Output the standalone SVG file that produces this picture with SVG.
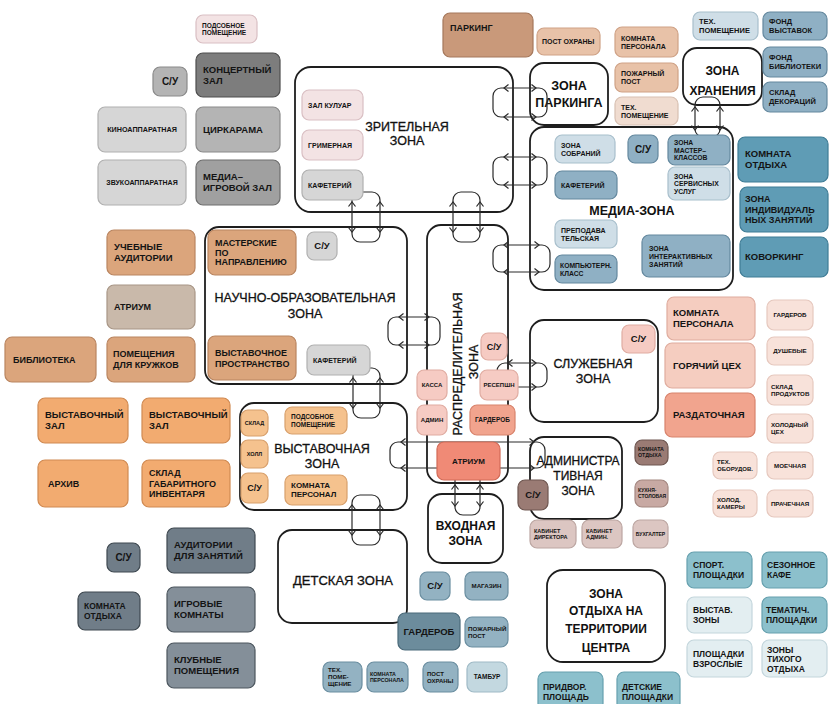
<svg xmlns="http://www.w3.org/2000/svg" width="829" height="704" viewBox="0 0 829 704">
<style>
rect{stroke-width:1.2}
.z{fill:#fff;stroke:#1e1e1e;stroke-width:1.8}
.t{font-family:"Liberation Sans",Arial,sans-serif;font-weight:bold;fill:#141414}
.m{text-anchor:middle}
.zr{font-family:"Liberation Sans",Arial,sans-serif;font-weight:normal;fill:#111;text-anchor:middle;stroke:#111;stroke-width:0.3}
.zb{font-family:"Liberation Sans",Arial,sans-serif;font-weight:bold;fill:#111;text-anchor:middle}
.cn rect,.cn path{fill:none;stroke:#2a2a2a;stroke-width:1.2}
.pinkL{fill:#f3e3e4;stroke:#d9bfc3}
.grayD{fill:#7d7d7d;stroke:#4e4e4e}
.grayM{fill:#b4b4b4;stroke:#8a8a8a}
.grayL{fill:#d6d6d6;stroke:#b0b0b0}
.grayM2{fill:#a0a0a0;stroke:#6e6e6e}
.tan{fill:#dba57c;stroke:#b98560}
.grayTan{fill:#c9b9aa;stroke:#a89686}
.orange{fill:#f2ab70;stroke:#d08a52}
.lor{fill:#f5c28e;stroke:#d8a06c}
.slateD{fill:#707d88;stroke:#3e4850}
.slateM{fill:#848f99;stroke:#4c565e}
.brownP{fill:#c9997a;stroke:#a5785c}
.peach{fill:#e8c2a8;stroke:#cfa286}
.peachL{fill:#f0dcd0;stroke:#d8c0b2}
.blueL{fill:#cfdee7;stroke:#a8bfcc}
.blueM{fill:#8fb0c4;stroke:#64889e}
.teal{fill:#5f9cb5;stroke:#3f7c95}
.pink{fill:#f5cdc0;stroke:#dfac9e}
.pinkL2{fill:#f8e2da;stroke:#e6c8be}
.salmon{fill:#f1a48e;stroke:#d8836c}
.atr{fill:#f08a76;stroke:#d26a56}
.pinkD{fill:#f6cbc3;stroke:#e0aca2}
.brownD{fill:#9a7b74;stroke:#6e5650}
.brownL{fill:#c8a9a3;stroke:#a48780}
.brownLL{fill:#dcc6c2;stroke:#bca6a2}
.blueB{fill:#93b2c2;stroke:#6a8ea0}
.blueDk{fill:#6c8c9c;stroke:#4a6a7a}
.blueLt{fill:#c3d8e0;stroke:#9fbac6}
.tealL{fill:#8cc0cc;stroke:#66a0ae}
.vLight{fill:#e3eef1;stroke:#c4d6dc}
</style>
<rect width="829" height="704" fill="#fff" stroke="none"/>

<!-- zones -->
<g id="zone-zritel"><rect class="z" x="295" y="67" width="218" height="145" rx="16"/><text class="zr" font-size="12.5"><tspan x="407" y="131">ЗРИТЕЛЬНАЯ</tspan><tspan x="407" y="145">ЗОНА</tspan></text></g>
<g id="zone-parking"><rect class="z" x="530" y="63" width="78" height="62" rx="14"/><text class="zb" font-size="12.5"><tspan x="569" y="90">ЗОНА</tspan><tspan x="569" y="107">ПАРКИНГА</tspan></text></g>
<g id="zone-hran"><rect class="z" x="683" y="48" width="79" height="57" rx="14"/><text class="zb" font-size="12"><tspan x="722.5" y="75">ЗОНА</tspan><tspan x="722.5" y="95">ХРАНЕНИЯ</tspan></text></g>
<g id="zone-media"><rect class="z" x="530" y="127" width="203" height="163" rx="14"/><text class="zb" font-size="12.5" x="632" y="215">МЕДИА-ЗОНА</text></g>
<g id="zone-nauch"><rect class="z" x="205" y="227" width="202" height="157" rx="14"/><text class="zr" font-size="12.5"><tspan x="305" y="302">НАУЧНО-ОБРАЗОВАТЕЛЬНАЯ</tspan><tspan x="305" y="318">ЗОНА</tspan></text></g>
<g id="zone-raspr"><rect class="z" x="427" y="225" width="81" height="258" rx="14"/><text class="zr" font-size="12.5" transform="translate(462,364) rotate(-90)">РАСПРЕДЕЛИТЕЛЬНАЯ</text><text class="zr" font-size="12.5" transform="translate(478,362) rotate(-90)">ЗОНА</text></g>
<g id="zone-vyst"><rect class="z" x="240" y="403" width="167" height="107" rx="14"/><text class="zr" font-size="12.5"><tspan x="322" y="453">ВЫСТАВОЧНАЯ</tspan><tspan x="322" y="468">ЗОНА</tspan></text></g>
<g id="zone-sluzh"><rect class="z" x="530" y="320" width="128" height="102" rx="14"/><text class="zr" font-size="12.5"><tspan x="593" y="368">СЛУЖЕБНАЯ</tspan><tspan x="593" y="383">ЗОНА</tspan></text></g>
<g id="zone-admin"><rect class="z" x="530" y="437" width="92" height="82" rx="14"/><text class="zr" font-size="12"><tspan x="578" y="465">АДМИНИСТРА</tspan><tspan x="578" y="480">ТИВНАЯ</tspan><tspan x="578" y="495">ЗОНА</tspan></text></g>
<g id="zone-vhod"><rect class="z" x="428" y="494" width="75" height="69" rx="14"/><text class="zb" font-size="12"><tspan x="465.5" y="530">ВХОДНАЯ</tspan><tspan x="465.5" y="545">ЗОНА</tspan></text></g>
<g id="zone-det"><rect class="z" x="278" y="530" width="129" height="93" rx="14"/><text class="zr" font-size="13" x="343" y="585">ДЕТСКАЯ ЗОНА</text></g>
<g id="zone-otdyh"><rect class="z" x="547" y="570" width="118" height="92" rx="16"/><text class="zb" font-size="12"><tspan x="606" y="598">ЗОНА</tspan><tspan x="606" y="615">ОТДЫХА НА</tspan><tspan x="606" y="633">ТЕРРИТОРИИ</tspan><tspan x="606" y="652">ЦЕНТРА</tspan></text></g>

<!-- connectors -->
<g id="connectors" class="cn">
<rect x="493" y="88" width="54" height="29" rx="8"/>
<path d="M508.5 84.5L504 88L508.5 91.5M508.5 113.5L504 117L508.5 120.5M531.5 84.5L536 88L531.5 91.5M531.5 113.5L536 117L531.5 120.5"/>
<rect x="493" y="157" width="54" height="28" rx="8"/>
<path d="M508.5 153.5L504 157L508.5 160.5M508.5 181.5L504 185L508.5 188.5M531.5 153.5L536 157L531.5 160.5M531.5 181.5L536 185L531.5 188.5"/>
<rect x="493" y="245" width="57" height="27" rx="8"/>
<path d="M508.5 241.5L504 245L508.5 248.5M508.5 268.5L504 272L508.5 275.5M534.5 241.5L539 245L534.5 248.5M534.5 268.5L539 272L534.5 275.5"/>
<rect x="388" y="317" width="52" height="28" rx="8"/>
<path d="M403.5 313.5L399 317L403.5 320.5M403.5 341.5L399 345L403.5 348.5M424.5 313.5L429 317L424.5 320.5M424.5 341.5L429 345L424.5 348.5"/>
<rect x="497" y="363" width="50" height="24" rx="8"/>
<path d="M512.5 359.5L508 363L512.5 366.5M512.5 383.5L508 387L512.5 390.5M531.5 359.5L536 363L531.5 366.5M531.5 383.5L536 387L531.5 390.5"/>
<rect x="390" y="442" width="155" height="26" rx="8"/>
<path d="M405.5 438.5L401 442L405.5 445.5M405.5 464.5L401 468L405.5 471.5M529.5 438.5L534 442L529.5 445.5M529.5 464.5L534 468L529.5 471.5"/>
<rect x="352" y="192" width="28" height="50" rx="8"/>
<path d="M348.5 206.5L352 202L355.5 206.5M376.5 206.5L380 202L383.5 206.5M348.5 227.5L352 232L355.5 227.5M376.5 227.5L380 232L383.5 227.5"/>
<rect x="453" y="192" width="27" height="50" rx="8"/>
<path d="M449.5 206.5L453 202L456.5 206.5M476.5 206.5L480 202L483.5 206.5M449.5 227.5L453 232L456.5 227.5M476.5 227.5L480 232L483.5 227.5"/>
<rect x="695" y="97" width="25" height="40" rx="8"/>
<path d="M691.5 111.5L695 107L698.5 111.5M716.5 111.5L720 107L723.5 111.5M691.5 125.5L695 130L698.5 125.5M716.5 125.5L720 130L723.5 125.5"/>
<rect x="353" y="368" width="27" height="50" rx="8"/>
<path d="M349.5 382.5L353 378L356.5 382.5M376.5 382.5L380 378L383.5 382.5M349.5 403.5L353 408L356.5 403.5M376.5 403.5L380 408L383.5 403.5"/>
<rect x="455" y="470" width="25" height="45" rx="8"/>
<path d="M451.5 489.5L455 485L458.5 489.5M476.5 489.5L480 485L483.5 489.5M451.5 501.5L455 506L458.5 501.5M476.5 501.5L480 506L483.5 501.5"/>
<rect x="352" y="495" width="28" height="50" rx="8"/>
<path d="M348.5 509.5L352 505L355.5 509.5M376.5 509.5L380 505L383.5 509.5M348.5 530.5L352 535L355.5 530.5M376.5 530.5L380 535L383.5 530.5"/>
</g>

<!-- top-left cluster -->
<g id="podsob1"><rect class="pinkL" x="196" y="15" width="61" height="28" rx="7"/><text class="t" font-size="6.5"><tspan x="202" y="27.6">ПОДСОБНОЕ</tspan><tspan x="202" y="35.1">ПОМЕЩЕНИЕ</tspan></text></g>
<g id="koncert"><rect class="grayD" x="196" y="53" width="84" height="44" rx="7"/><text class="t" font-size="9.5"><tspan x="203" y="72.9">КОНЦЕРТНЫЙ</tspan><tspan x="203" y="83.9">ЗАЛ</tspan></text></g>
<g id="su1"><rect class="grayM" x="153" y="67" width="34" height="29" rx="7"/><text class="t m" font-size="10" x="170" y="85.1">С/У</text></g>
<g id="kino"><rect class="grayL" x="98" y="107" width="88" height="45" rx="7"/><text class="t m" font-size="7.2" x="142" y="132.1">КИНОАППАРАТНАЯ</text></g>
<g id="cirk"><rect class="grayM" x="196" y="107" width="84" height="45" rx="7"/><text class="t" font-size="9.5" x="203" y="132.9">ЦИРКАРАМА</text></g>
<g id="zvuk"><rect class="grayL" x="98" y="160" width="88" height="45" rx="7"/><text class="t m" font-size="7" x="142" y="185">ЗВУКОАППАРАТНАЯ</text></g>
<g id="mediaigr"><rect class="grayM2" x="196" y="160" width="84" height="45" rx="7"/><text class="t" font-size="9.5"><tspan x="203" y="180.4">МЕДИА–</tspan><tspan x="203" y="191.4">ИГРОВОЙ ЗАЛ</tspan></text></g>

<!-- left middle -->
<g id="ucheb"><rect class="tan" x="107" y="230" width="88" height="45" rx="7"/><text class="t" font-size="9.5"><tspan x="114" y="250.4">УЧЕБНЫЕ</tspan><tspan x="114" y="261.4">АУДИТОРИИ</tspan></text></g>
<g id="atrium1"><rect class="grayTan" x="107" y="285" width="88" height="44" rx="7"/><text class="t" font-size="9" x="114" y="310.2">АТРИУМ</text></g>
<g id="bibl"><rect class="tan" x="5" y="337" width="91" height="45" rx="7"/><text class="t" font-size="9" x="13" y="362.7">БИБЛИОТЕКА</text></g>
<g id="pomkr"><rect class="tan" x="107" y="337" width="88" height="45" rx="7"/><text class="t" font-size="9"><tspan x="113" y="357.2">ПОМЕЩЕНИЯ</tspan><tspan x="113" y="368.2">ДЛЯ КРУЖКОВ</tspan></text></g>
<g id="vz1"><rect class="orange" x="38" y="398" width="90" height="45" rx="7"/><text class="t" font-size="9.5"><tspan x="45" y="418.4">ВЫСТАВОЧНЫЙ</tspan><tspan x="45" y="429.4">ЗАЛ</tspan></text></g>
<g id="vz2"><rect class="orange" x="142" y="398" width="88" height="45" rx="7"/><text class="t" font-size="9.5"><tspan x="149" y="418.4">ВЫСТАВОЧНЫЙ</tspan><tspan x="149" y="429.4">ЗАЛ</tspan></text></g>
<g id="arhiv"><rect class="orange" x="38" y="460" width="90" height="47" rx="7"/><text class="t" font-size="9" x="48" y="486.7">АРХИВ</text></g>
<g id="sklgab"><rect class="orange" x="142" y="460" width="88" height="47" rx="7"/><text class="t" font-size="9"><tspan x="149" y="476.2">СКЛАД</tspan><tspan x="149" y="486.7">ГАБАРИТНОГО</tspan><tspan x="149" y="497.2">ИНВЕНТАРЯ</tspan></text></g>

<!-- bottom-left -->
<g id="su-bl"><rect class="slateD" x="107" y="543" width="33" height="29" rx="7"/><text class="t m" font-size="10" x="123.5" y="561.1">С/У</text></g>
<g id="audit"><rect class="slateD" x="167" y="528" width="88" height="45" rx="7"/><text class="t" font-size="9.5"><tspan x="174" y="548.4">АУДИТОРИИ</tspan><tspan x="174" y="559.4">ДЛЯ ЗАНЯТИЙ</tspan></text></g>
<g id="komotd-bl"><rect class="slateD" x="78" y="592" width="62" height="38" rx="7"/><text class="t" font-size="8.5"><tspan x="84" y="609.1">КОМНАТА</tspan><tspan x="84" y="619.1">ОТДЫХА</tspan></text></g>
<g id="igr"><rect class="slateM" x="167" y="587" width="88" height="45" rx="7"/><text class="t" font-size="9.5"><tspan x="174" y="607.4">ИГРОВЫЕ</tspan><tspan x="174" y="618.4">КОМНАТЫ</tspan></text></g>
<g id="klub"><rect class="slateM" x="167" y="643" width="88" height="45" rx="7"/><text class="t" font-size="9.5"><tspan x="174" y="663.4">КЛУБНЫЕ</tspan><tspan x="174" y="674.4">ПОМЕЩЕНИЯ</tspan></text></g>

<!-- inside зрительная -->
<g id="zalkul"><rect class="pinkL" x="302" y="90" width="61" height="30" rx="7"/><text class="t" font-size="7" x="308" y="107.5">ЗАЛ КУЛУАР</text></g>
<g id="grim"><rect class="pinkL" x="302" y="130" width="61" height="30" rx="7"/><text class="t" font-size="7" x="308" y="147.5">ГРИМЕРНАЯ</text></g>
<g id="kaf1"><rect class="grayL" x="302" y="170" width="61" height="30" rx="7"/><text class="t" font-size="7" x="308" y="187.5">КАФЕТЕРИЙ</text></g>

<!-- top middle -->
<g id="parking"><rect class="brownP" x="443" y="13" width="90" height="44" rx="7"/><text class="t" font-size="9" x="450" y="31">ПАРКИНГ</text></g>
<g id="postoh-t"><rect class="peach" x="537" y="28" width="63" height="27" rx="7"/><text class="t" font-size="7" x="542" y="44">ПОСТ ОХРАНЫ</text></g>
<g id="kompers-t"><rect class="peach" x="615" y="27" width="63" height="30" rx="7"/><text class="t" font-size="7"><tspan x="621" y="40.5">КОМНАТА</tspan><tspan x="621" y="48.5">ПЕРСОНАЛА</tspan></text></g>
<g id="pozh-t"><rect class="peach" x="615" y="63" width="63" height="29" rx="7"/><text class="t" font-size="7"><tspan x="621" y="76">ПОЖАРНЫЙ</tspan><tspan x="621" y="84">ПОСТ</tspan></text></g>
<g id="teh-t"><rect class="peachL" x="615" y="97" width="63" height="28" rx="7"/><text class="t" font-size="7"><tspan x="621" y="109.5">ТЕХ.</tspan><tspan x="621" y="117.5">ПОМЕЩЕНИЕ</tspan></text></g>

<!-- storage right -->
<g id="teh-r"><rect class="blueL" x="693" y="12" width="65" height="28" rx="7"/><text class="t" font-size="7.5"><tspan x="699" y="24.4">ТЕХ.</tspan><tspan x="699" y="32.9">ПОМЕЩЕНИЕ</tspan></text></g>
<g id="fondv"><rect class="blueM" x="763" y="12" width="64" height="28" rx="7"/><text class="t" font-size="7.5"><tspan x="769" y="24.4">ФОНД</tspan><tspan x="769" y="32.9">ВЫСТАВОК</tspan></text></g>
<g id="fondb"><rect class="blueM" x="763" y="47" width="64" height="30" rx="7"/><text class="t" font-size="7.5"><tspan x="769" y="60.4">ФОНД</tspan><tspan x="769" y="68.9">БИБЛИОТЕКИ</tspan></text></g>
<g id="skldek"><rect class="blueM" x="763" y="82" width="64" height="30" rx="7"/><text class="t" font-size="7.5"><tspan x="769" y="95.4">СКЛАД</tspan><tspan x="769" y="103.9">ДЕКОРАЦИЙ</tspan></text></g>
<g id="komotd-r"><rect class="teal" x="738" y="137" width="90" height="45" rx="7"/><text class="t" font-size="9.5"><tspan x="745" y="157.4">КОМНАТА</tspan><tspan x="745" y="168.4">ОТДЫХА</tspan></text></g>
<g id="individ"><rect class="teal" x="740" y="187" width="88" height="45" rx="7"/><text class="t" font-size="9"><tspan x="745" y="202.2">ЗОНА</tspan><tspan x="745" y="212.7">ИНДИВИДУАЛЬ</tspan><tspan x="745" y="223.2">НЫХ ЗАНЯТИЙ</tspan></text></g>
<g id="cowork"><rect class="teal" x="740" y="237" width="88" height="40" rx="7"/><text class="t" font-size="9.5" x="745" y="260.4">КОВОРКИНГ</text></g>

<!-- inside media -->
<g id="sobr"><rect class="blueL" x="555" y="135" width="60" height="28" rx="7"/><text class="t" font-size="7"><tspan x="561" y="147.5">ЗОНА</tspan><tspan x="561" y="155.5">СОБРАНИЙ</tspan></text></g>
<g id="su-m"><rect class="blueM" x="628" y="135" width="30" height="28" rx="7"/><text class="t m" font-size="10" x="643" y="152.6">С/У</text></g>
<g id="master"><rect class="blueM" x="668" y="135" width="62" height="30" rx="7"/><text class="t" font-size="6.8"><tspan x="674" y="145">ЗОНА</tspan><tspan x="674" y="152.5">МАСТЕР–</tspan><tspan x="674" y="160">КЛАССОВ</tspan></text></g>
<g id="kaf-m"><rect class="blueM" x="555" y="171" width="62" height="28" rx="7"/><text class="t" font-size="7" x="561" y="187.5">КАФЕТЕРИЙ</text></g>
<g id="serv"><rect class="blueL" x="668" y="167" width="62" height="33" rx="7"/><text class="t" font-size="6.8"><tspan x="674" y="178.5">ЗОНА</tspan><tspan x="674" y="186">СЕРВИСНЫХ</tspan><tspan x="674" y="193.5">УСЛУГ</tspan></text></g>
<g id="prep"><rect class="blueL" x="555" y="220" width="62" height="28" rx="7"/><text class="t" font-size="7"><tspan x="561" y="232.5">ПРЕПОДАВА</tspan><tspan x="561" y="240.5">ТЕЛЬСКАЯ</tspan></text></g>
<g id="comp"><rect class="blueM" x="555" y="255" width="62" height="28" rx="7"/><text class="t" font-size="6.8"><tspan x="560" y="267.5">КОМПЬЮТЕРН.</tspan><tspan x="560" y="275.5">КЛАСС</tspan></text></g>
<g id="inter"><rect class="blueM" x="642" y="235" width="88" height="42" rx="7"/><text class="t" font-size="7"><tspan x="649" y="250.5">ЗОНА</tspan><tspan x="649" y="258.5">ИНТЕРАКТИВНЫХ</tspan><tspan x="649" y="266.5">ЗАНЯТИЙ</tspan></text></g>

<!-- kitchen -->
<g id="kompers-k"><rect class="pink" x="667" y="297" width="88" height="43" rx="7"/><text class="t" font-size="9.5"><tspan x="673" y="316.4">КОМНАТА</tspan><tspan x="673" y="327.4">ПЕРСОНАЛА</tspan></text></g>
<g id="gor"><rect class="pink" x="665" y="343" width="90" height="45" rx="7"/><text class="t" font-size="9.5" x="673" y="368.9">ГОРЯЧИЙ ЦЕХ</text></g>
<g id="razd"><rect class="salmon" x="665" y="393" width="90" height="44" rx="7"/><text class="t" font-size="9.5" x="673" y="418.4">РАЗДАТОЧНАЯ</text></g>
<g id="gard-k"><rect class="pinkL2" x="767" y="300" width="46" height="30" rx="7"/><text class="t m" font-size="6.2" x="790" y="317.2">ГАРДЕРОБ</text></g>
<g id="dush"><rect class="pinkL2" x="767" y="337" width="46" height="28" rx="7"/><text class="t m" font-size="6.2" x="790" y="353.2">ДУШЕВЫЕ</text></g>
<g id="sklprod"><rect class="pinkL2" x="767" y="375" width="46" height="30" rx="7"/><text class="t" font-size="6.2"><tspan x="771" y="388.7">СКЛАД</tspan><tspan x="771" y="395.7">ПРОДУКТОВ</tspan></text></g>
<g id="holc"><rect class="pinkL2" x="767" y="414" width="46" height="29" rx="7"/><text class="t" font-size="6.2"><tspan x="771" y="427.2">ХОЛОДНЫЙ</tspan><tspan x="771" y="434.2">ЦЕХ</tspan></text></g>
<g id="tehob"><rect class="pinkL2" x="713" y="452" width="44" height="27" rx="7"/><text class="t" font-size="6"><tspan x="717" y="464.2">ТЕХ.</tspan><tspan x="717" y="471.2">ОБОРУДОВ.</tspan></text></g>
<g id="moech"><rect class="pinkL2" x="767" y="452" width="46" height="27" rx="7"/><text class="t m" font-size="6.2" x="790" y="467.7">МОЕЧНАЯ</text></g>
<g id="holk"><rect class="pinkL2" x="713" y="490" width="44" height="27" rx="7"/><text class="t" font-size="6.2"><tspan x="717" y="502.2">ХОЛОД.</tspan><tspan x="717" y="509.2">КАМЕРЫ</tspan></text></g>
<g id="prach"><rect class="pinkL2" x="767" y="490" width="46" height="27" rx="7"/><text class="t m" font-size="6.2" x="790" y="505.7">ПРАЧЕЧНАЯ</text></g>

<!-- inside научно -->
<g id="mast"><rect class="tan" x="208" y="230" width="88" height="45" rx="7"/><text class="t" font-size="9"><tspan x="215" y="246.3">МАСТЕРСКИЕ</tspan><tspan x="215" y="255.8">ПО</tspan><tspan x="215" y="265.3">НАПРАВЛЕНИЮ</tspan></text></g>
<g id="su-n"><rect class="grayL" x="307" y="232" width="30" height="28" rx="7"/><text class="t m" font-size="9.5" x="322" y="249.4">С/У</text></g>
<g id="vystpr"><rect class="tan" x="208" y="336" width="88" height="44" rx="7"/><text class="t" font-size="9"><tspan x="215" y="355.7">ВЫСТАВОЧНОЕ</tspan><tspan x="215" y="366.7">ПРОСТРАНСТВО</tspan></text></g>
<g id="kaf2"><rect class="grayL" x="307" y="345" width="63" height="30" rx="7"/><text class="t" font-size="7" x="313" y="362.5">КАФЕТЕРИЙ</text></g>

<!-- inside распределительная -->
<g id="su-r"><rect class="pinkD" x="481" y="333" width="26" height="27" rx="7"/><text class="t m" font-size="9" x="494" y="349.7">С/У</text></g>
<g id="kassa"><rect class="pinkD" x="417" y="370" width="30" height="30" rx="7"/><text class="t m" font-size="6" x="432" y="387.2">КАССА</text></g>
<g id="resep"><rect class="pinkD" x="480" y="370" width="38" height="30" rx="7"/><text class="t m" font-size="6" x="499" y="387.2">РЕСЕПШН</text></g>
<g id="admin"><rect class="pinkD" x="417" y="405" width="30" height="30" rx="7"/><text class="t m" font-size="6" x="432" y="422.2">АДМИН</text></g>
<g id="gard-r"><rect class="salmon" x="470" y="405" width="45" height="30" rx="7"/><text class="t m" font-size="6.5" x="492.5" y="422.3">ГАРДЕРОБ</text></g>
<g id="atrium-c"><rect class="atr" x="437" y="442" width="63" height="38" rx="7"/><text class="t m" font-size="8" x="468.5" y="463.9">АТРИУМ</text></g>

<!-- inside выставочная -->
<g id="skl"><rect class="lor" x="241" y="410" width="27" height="26" rx="7"/><text class="t m" font-size="5.5" x="254.5" y="425">СКЛАД</text></g>
<g id="holl"><rect class="lor" x="241" y="440" width="27" height="28" rx="7"/><text class="t m" font-size="5.5" x="254.5" y="456">ХОЛЛ</text></g>
<g id="su-v"><rect class="lor" x="241" y="473" width="27" height="30" rx="7"/><text class="t m" font-size="9" x="254.5" y="491.2">С/У</text></g>
<g id="podsob2"><rect class="lor" x="285" y="407" width="62" height="27" rx="7"/><text class="t" font-size="6.5"><tspan x="291" y="419">ПОДСОБНОЕ</tspan><tspan x="291" y="426.5">ПОМЕЩЕНИЕ</tspan></text></g>
<g id="kompers-v"><rect class="lor" x="285" y="475" width="62" height="30" rx="7"/><text class="t" font-size="8"><tspan x="291" y="488.4">КОМНАТА</tspan><tspan x="291" y="497.4">ПЕРСОНАЛ</tspan></text></g>

<!-- служебная / административная -->
<g id="su-s"><rect class="pinkD" x="622" y="325" width="33" height="28" rx="7"/><text class="t m" font-size="9.5" x="638.5" y="342.4">С/У</text></g>
<g id="su-a"><rect class="brownD" x="518" y="480" width="30" height="30" rx="7"/><text class="t m" font-size="9.5" x="533" y="498.4">С/У</text></g>
<g id="komotd-a"><rect class="brownD" x="635" y="440" width="33" height="25" rx="7"/><text class="t" font-size="5.3"><tspan x="638" y="451.4">КОМНАТА</tspan><tspan x="638" y="457.4">ОТДЫХА</tspan></text></g>
<g id="kuhnya"><rect class="brownL" x="635" y="480" width="33" height="27" rx="7"/><text class="t" font-size="5"><tspan x="638" y="492.4">КУХНЯ-</tspan><tspan x="638" y="498.4">СТОЛОВАЯ</tspan></text></g>
<g id="kabdir"><rect class="brownLL" x="530" y="520" width="46" height="28" rx="7"/><text class="t" font-size="5.5"><tspan x="534" y="532.7">КАБИНЕТ</tspan><tspan x="534" y="539.2">ДИРЕКТОРА</tspan></text></g>
<g id="kabadm"><rect class="brownLL" x="582" y="520" width="40" height="28" rx="7"/><text class="t" font-size="5.5"><tspan x="586" y="532.7">КАБИНЕТ</tspan><tspan x="586" y="539.2">АДМИН.</tspan></text></g>
<g id="buh"><rect class="brownLL" x="633" y="520" width="35" height="28" rx="7"/><text class="t m" font-size="5" x="650.5" y="535.8">БУХГАЛТЕР</text></g>

<!-- bottom center -->
<g id="su-b"><rect class="blueB" x="420" y="572" width="30" height="28" rx="7"/><text class="t m" font-size="9.5" x="435" y="589.4">С/У</text></g>
<g id="magaz"><rect class="blueB" x="465" y="572" width="43" height="28" rx="7"/><text class="t m" font-size="6.2" x="486.5" y="588.2">МАГАЗИН</text></g>
<g id="gard-b"><rect class="blueDk" x="398" y="613" width="62" height="37" rx="7"/><text class="t m" font-size="9.5" x="429" y="634.9">ГАРДЕРОБ</text></g>
<g id="pozh-b"><rect class="blueB" x="465" y="617" width="43" height="30" rx="7"/><text class="t" font-size="6.2"><tspan x="468" y="630.8">ПОЖАРНЫЙ</tspan><tspan x="468" y="637.8">ПОСТ</tspan></text></g>
<g id="teh-b"><rect class="blueB" x="323" y="662" width="39" height="30" rx="7"/><text class="t" font-size="6.2"><tspan x="328" y="672.4">ТЕХ.</tspan><tspan x="328" y="679.2">ПОМЕ-</tspan><tspan x="328" y="686">ЩЕНИЕ</tspan></text></g>
<g id="kompers-b"><rect class="blueB" x="367" y="662" width="41" height="30" rx="7"/><text class="t" font-size="5.3"><tspan x="370" y="675.7">КОМНАТА</tspan><tspan x="370" y="682.2">ПЕРСОНАЛА</tspan></text></g>
<g id="postoh-b"><rect class="blueB" x="423" y="662" width="35" height="30" rx="7"/><text class="t" font-size="6"><tspan x="427" y="675.7">ПОСТ</tspan><tspan x="427" y="682.7">ОХРАНЫ</tspan></text></g>
<g id="tambur"><rect class="blueLt" x="467" y="662" width="40" height="30" rx="7"/><text class="t m" font-size="6.5" x="487" y="679.3">ТАМБУР</text></g>

<!-- outdoor -->
<g id="pridvor"><rect class="tealL" x="538" y="672" width="65" height="38" rx="7"/><text class="t" font-size="8.5"><tspan x="543" y="689.5">ПРИДВОР.</tspan><tspan x="543" y="699.5">ПЛОЩАДЬ</tspan></text></g>
<g id="detpl"><rect class="tealL" x="617" y="672" width="63" height="38" rx="7"/><text class="t" font-size="8.5"><tspan x="622" y="689.5">ДЕТСКИЕ</tspan><tspan x="622" y="699.5">ПЛОЩАДКИ</tspan></text></g>
<g id="sport"><rect class="tealL" x="687" y="552" width="65" height="36" rx="7"/><text class="t" font-size="8.5"><tspan x="693" y="568.1">СПОРТ.</tspan><tspan x="693" y="578.1">ПЛОЩАДКИ</tspan></text></g>
<g id="sezon"><rect class="tealL" x="762" y="552" width="65" height="36" rx="7"/><text class="t" font-size="8.5"><tspan x="767" y="568.1">СЕЗОННОЕ</tspan><tspan x="767" y="578.1">КАФЕ</tspan></text></g>
<g id="vystz"><rect class="vLight" x="687" y="597" width="65" height="36" rx="7"/><text class="t" font-size="8.5"><tspan x="693" y="613.1">ВЫСТАВ.</tspan><tspan x="693" y="623.1">ЗОНЫ</tspan></text></g>
<g id="temat"><rect class="tealL" x="762" y="597" width="65" height="36" rx="7"/><text class="t" font-size="8.5"><tspan x="766" y="613.1">ТЕМАТИЧ.</tspan><tspan x="766" y="623.1">ПЛОЩАДКИ</tspan></text></g>
<g id="plvz"><rect class="vLight" x="687" y="640" width="65" height="37" rx="7"/><text class="t" font-size="8.5"><tspan x="693" y="656.6">ПЛОЩАДКИ</tspan><tspan x="693" y="666.6">ВЗРОСЛЫЕ</tspan></text></g>
<g id="tihiy"><rect class="vLight" x="762" y="640" width="65" height="37" rx="7"/><text class="t" font-size="8.5"><tspan x="767" y="652.8">ЗОНЫ</tspan><tspan x="767" y="662.3">ТИХОГО</tspan><tspan x="767" y="671.8">ОТДЫХА</tspan></text></g>
</svg>
